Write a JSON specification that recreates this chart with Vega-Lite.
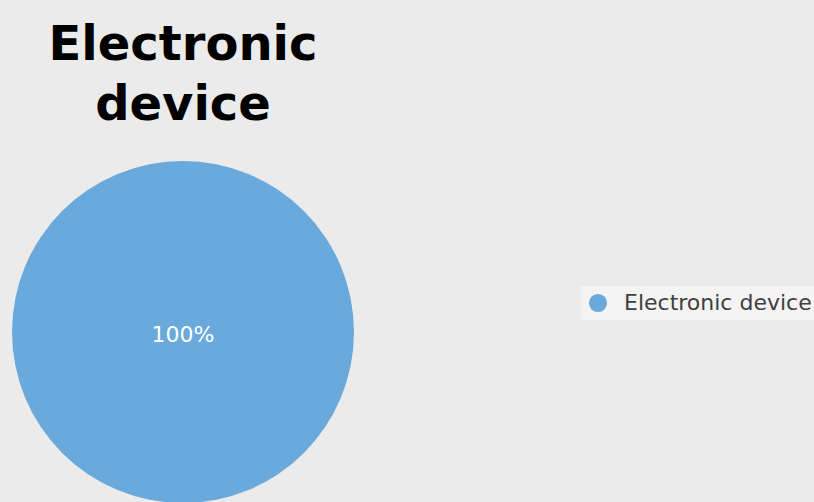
{
  "$schema": "https://vega.github.io/schema/vega-lite/v6.json",
  "width": 342,
  "height": 342,
  "autosize": {"type": "none"},
  "padding": {"left": 12, "top": 161, "right": 460, "bottom": 0},
  "background": "#ebebeb",
  "title": {
    "text": ["Electronic", "device"],
    "anchor": "middle",
    "frame": "group",
    "font": "DejaVu Sans",
    "fontSize": 48,
    "fontWeight": "bold",
    "color": "#000000",
    "lineHeight": 60,
    "offset": 31
  },
  "data": {
    "values": [
      {"category": "Electronic device", "value": 100, "label": "100%"}
    ]
  },
  "layer": [
    {
      "mark": {"type": "arc", "stroke": null},
      "encoding": {
        "theta": {"field": "value", "type": "quantitative", "stack": true},
        "color": {
          "field": "category",
          "type": "nominal",
          "scale": {"range": ["#69a9db"]},
          "legend": {
            "title": null,
            "orient": "none",
            "legendX": 569,
            "legendY": 125,
            "symbolType": "circle",
            "symbolSize": 330,
            "symbolStrokeWidth": 0,
            "labelFont": "DejaVu Sans",
            "labelFontSize": 22,
            "labelLimit": 0,
            "labelColor": "#404040",
            "labelOffset": 15,
            "fillColor": "#f4f4f4",
            "padding": 6
          }
        }
      }
    },
    {
      "mark": {"type": "text", "color": "#ffffff", "font": "DejaVu Sans", "fontSize": 22, "dy": 3},
      "encoding": {"text": {"field": "label", "type": "nominal"}}
    }
  ]
}
